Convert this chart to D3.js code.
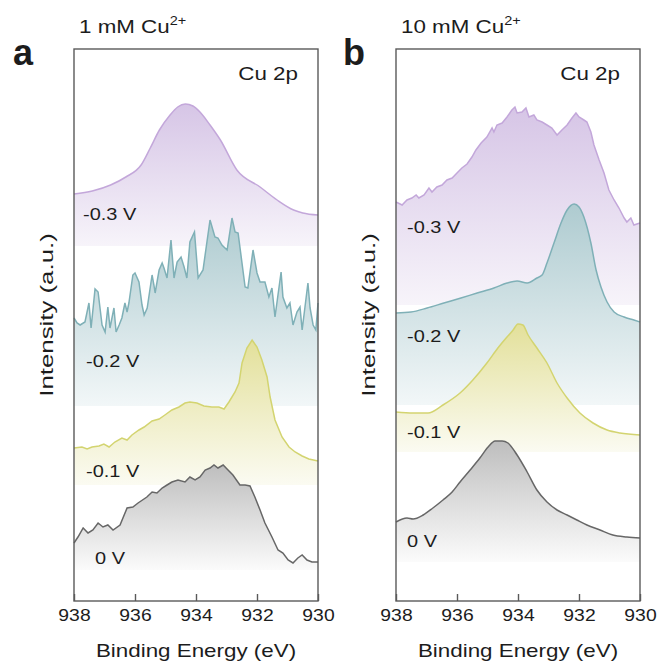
<!DOCTYPE html>
<html>
<head>
<meta charset="utf-8">
<script src="https://cdn.jsdelivr.net/npm/d3@7"></script>
<style>
  body { margin: 0; background: #fff; }
  text { font-family: "Liberation Sans", Arial, sans-serif; fill: #1c1c1c; }
</style>
</head>
<body>
<svg id="chart" width="658" height="668"></svg>
<script>
// x axis ticks, binding energy (eV)
const energyTicks = [938, 936, 934, 932, 930];
const potentials = ["-0.3 V", "-0.2 V", "-0.1 V", "0 V"];

// 1 mM Cu2+ : [binding energy, intensity a.u.] (above each trace's own baseline)
const a03 = [[938,52],[937.4,55],[936.8,61],[936.3,69],[935.8,81],[935.5,98],[935.2,116],[934.85,131],
  [934.6,139],[934.35,142],[934.1,140],[933.87,134],[933.54,121],[933.2,106],[932.66,76],[931.9,59],
  [931.34,46],[930.8,36],[930.5,33],[930,31]];
const a02 = [[938,88],[937.9,83],[937.8,81],[937.64,84],[937.51,103],[937.44,78],[937.31,117],[937.21,114],
  [937.08,81],[936.98,74],[936.89,99],[936.82,78],[936.69,98],[936.62,74],[936.52,81],[936.43,88],
  [936.33,103],[936.26,94],[936.2,103],[936.07,131],[936,133],[935.87,124],[935.77,101],[935.7,91],
  [935.6,98],[935.44,131],[935.38,121],[935.34,113],[935.21,136],[935.11,143],[935.05,138],[934.95,128],
  [934.82,166],[934.72,128],[934.62,144],[934.49,149],[934.39,139],[934.3,128],[934.2,164],[934.05,174],
  [933.93,128],[933.77,136],[933.54,186],[933.38,169],[933.28,168],[933.15,161],[932.98,156],[932.82,188],
  [932.72,174],[932.62,173],[932.39,119],[932.3,118],[932.13,156],[932,133],[931.9,124],[931.74,124],
  [931.61,109],[931.51,118],[931.41,89],[931.21,134],[931.15,109],[931.02,98],[930.92,103],[930.82,81],
  [930.69,94],[930.59,99],[930.52,76],[930.33,123],[930.26,98],[930.16,81],[930.07,76],[930,103]];
const a01 = [[938,37],[937.74,38],[937.57,36],[937.41,38],[937.18,39],[937.02,41],[936.85,38],[936.66,43],
  [936.43,47],[936.26,45],[936.1,50],[935.87,55],[935.7,58],[935.44,64],[935.21,66],[935.02,70],
  [934.79,75],[934.56,78],[934.36,82],[934.2,83],[933.97,82],[933.74,79],[933.48,78],[933.25,78],
  [933.08,76],[932.92,83],[932.72,93],[932.59,102],[932.49,122],[932.33,137],[932.16,145],[932,138],
  [931.84,125],[931.67,108],[931.57,88],[931.41,65],[931.18,48],[930.95,38],[930.75,33],[930.52,29],
  [930.3,26],[930,24]];
const a00 = [[938,27],[937.87,33],[937.7,42],[937.54,37],[937.38,40],[937.21,47],[937.05,43],[936.89,45],
  [936.72,40],[936.49,45],[936.26,62],[936.07,63],[935.9,67],[935.61,73],[935.44,78],[935.28,77],
  [935.11,82],[934.95,85],[934.79,88],[934.59,90],[934.36,88],[934.2,93],[934.03,90],[933.87,93],
  [933.7,100],[933.54,102],[933.41,105],[933.28,102],[933.11,105],[932.95,100],[932.79,95],[932.56,85],
  [932.39,85],[932.23,84],[932.07,73],[931.9,60],[931.74,47],[931.51,33],[931.31,20],[931.15,17],
  [930.98,10],[930.82,7],[930.66,12],[930.52,15],[930.36,10],[930.2,8],[930,8]];

// 10 mM Cu2+
const b03 = [[938,103],[937.8,100],[937.64,105],[937.48,107],[937.34,110],[937.25,107],[937.08,110],
  [936.92,117],[936.82,113],[936.66,118],[936.49,120],[936.33,125],[936.16,127],[936,132],[935.84,137],
  [935.67,141],[935.51,148],[935.38,155],[935.21,162],[935.02,168],[934.85,177],[934.79,173],[934.69,180],
  [934.52,182],[934.36,188],[934.2,195],[934.1,198],[934.03,192],[933.87,193],[933.74,197],[933.64,188],
  [933.48,190],[933.38,185],[933.21,183],[933.05,180],[932.89,177],[932.72,170],[932.56,175],[932.39,180],
  [932.23,187],[932.1,192],[932,188],[931.84,185],[931.74,183],[931.61,173],[931.51,160],[931.34,145],
  [931.18,132],[931.02,115],[930.85,105],[930.69,97],[930.52,87],[930.43,83],[930.3,87],[930.2,80],[930,82]];
const b02 = [[938,92],[937.51,93],[936.98,97],[936.43,102],[935.87,107],[935.34,112],[934.79,117],
  [934.36,122],[934.03,124],[933.7,122],[933.38,127],[933.21,130],[933.05,142],[932.82,162],[932.59,182],
  [932.39,195],[932.16,201],[932,198],[931.84,188],[931.61,162],[931.44,135],[931.28,118],[931.08,103],
  [930.85,93],[930.52,88],[930.2,85],[930,83]];
const b01 = [[938,40],[937.44,39],[936.95,39],[936.46,47],[935.9,59],[935.48,72],[935.02,89],[934.66,104],
  [934.36,115],[934.16,122],[934,128],[933.84,127],[933.67,117],[933.38,104],[933.05,89],[932.72,69],
  [932.39,54],[931.97,39],[931.54,29],[931.08,22],[930.66,19],[930,17]];
const b00 = [[938,40],[937.64,44],[937.44,43],[937.11,47],[936.79,54],[936.46,62],[936.16,70],[935.9,80],
  [935.57,92],[935.25,104],[934.98,115],[934.75,121],[934.52,121],[934.33,119],[934.03,107],[933.7,90],
  [933.38,72],[933.05,60],[932.72,52],[932.39,47],[932.07,42],[931.74,37],[931.31,32],[930.89,27],
  [930.43,25],[930,24]];

// stacking offsets of the traces (a.u.), top to bottom
const offsetsA = [355, 195, 116, 31];
const offsetsB = [296, 196, 149, 39];

const lineColors = ["#c3a7da", "#7fb0b7", "#d3d470", "#676767"];
const fillTop = ["#d6c5e6", "#aecbd0", "#e3e09a", "#bebebe"];
const fillBottom = ["#f7f4fa", "#f2f7f8", "#fbfbf2", "#fbfbfb"];

const sx = 1.21; // the original figure is stretched horizontally
const plotTop = 49, plotBottom = 601, panelW = 244;

const panels = [
  {tag: "a", tagX: 13, conc: "1 mM", left: 74, series: [a03, a02, a01, a00], offsets: offsetsA,
   smooth: [true, false, false, false], labelDx: [9, 12, 12, 21], labelY: [381, 234, 124, 37]},
  {tag: "b", tagX: 343, conc: "10 mM", left: 396, series: [b03, b02, b01, b00], offsets: offsetsB,
   smooth: [false, true, true, true], labelDx: [11, 11, 11, 11], labelY: [368, 259, 163, 54]}
];

const svg = d3.select("#chart");
const defs = svg.append("defs");

function stretched(g, x, y, size, txt) {
  return g.append("text")
    .attr("transform", `translate(${x},${y}) scale(${sx},1)`)
    .attr("font-size", size)
    .text(txt);
}

panels.forEach(p => {
  const right = p.left + panelW;
  const x = d3.scaleLinear().domain([938, 930]).range([p.left, right]);
  const y = d3.scaleLinear().domain([0, plotBottom - plotTop]).range([plotBottom, plotTop]);
  const g = svg.append("g");

  p.series.forEach((s, i) => {
    const gid = `grad-${p.tag}-${i}`;
    const grad = defs.append("linearGradient")
      .attr("id", gid)
      .attr("x1", 0).attr("y1", 0).attr("x2", 0).attr("y2", 1);
    grad.append("stop").attr("offset", 0).attr("stop-color", fillTop[i]);
    grad.append("stop").attr("offset", 1).attr("stop-color", fillBottom[i]);

    const off = p.offsets[i];
    const curve = p.smooth[i] ? d3.curveMonotoneX : d3.curveLinear;
    const area = d3.area()
      .x(d => x(d[0]))
      .y0(y(off))
      .y1(d => y(off + d[1]))
      .curve(curve);
    const line = d3.line()
      .x(d => x(d[0]))
      .y(d => y(off + d[1]))
      .curve(curve);

    g.append("path")
      .datum(s)
      .attr("d", area)
      .attr("fill", `url(#${gid})`);
    g.append("path")
      .datum(s)
      .attr("d", line)
      .attr("fill", "none")
      .attr("stroke", lineColors[i])
      .attr("stroke-width", 1.5);

    stretched(g, p.left + p.labelDx[i], y(p.labelY[i]), 16.5, potentials[i]);
  });

  // frame
  g.append("rect")
    .attr("x", p.left).attr("y", plotTop)
    .attr("width", panelW).attr("height", plotBottom - plotTop)
    .attr("fill", "none")
    .attr("stroke", "#5a5a5a")
    .attr("stroke-width", 1.4);

  const axis = g.append("g")
    .attr("transform", `translate(0,${plotBottom})`)
    .call(d3.axisBottom(x)
      .tickValues(energyTicks)
      .tickFormat(d3.format("d"))
      .tickSizeInner(-7)
      .tickSizeOuter(0)
      .tickPadding(9));
  axis.select(".domain").remove();
  axis.selectAll(".tick line").attr("stroke", "#5a5a5a").attr("stroke-width", 1.4);
  axis.selectAll(".tick text")
    .attr("font-size", 16)
    .attr("font-family", "Liberation Sans, Arial, sans-serif")
    .attr("fill", "#1c1c1c")
    .attr("transform", `scale(${sx},1)`);

  // axis titles
  stretched(g, p.left + panelW / 2, 657, 18.5, "Binding Energy (eV)")
    .attr("text-anchor", "middle");
  g.append("text")
    .attr("transform", `translate(${p.left - 21},315) rotate(-90) scale(1.36,1)`)
    .attr("text-anchor", "middle")
    .attr("font-size", 19)
    .text("Intensity (a.u.)");

  // panel letter, condition and element
  g.append("text")
    .attr("x", p.tagX).attr("y", 65)
    .attr("font-size", 36)
    .attr("font-weight", "bold")
    .attr("fill", "#000")
    .text(p.tag);
  const title = stretched(g, p.left + 5, 33, 18.5, `${p.conc} Cu`);
  title.append("tspan")
    .attr("font-size", 12)
    .attr("dy", -8)
    .text("2+");
  stretched(g, right - 20, 80, 18.5, "Cu 2p")
    .attr("text-anchor", "end");
});
</script>
</body>
</html>
